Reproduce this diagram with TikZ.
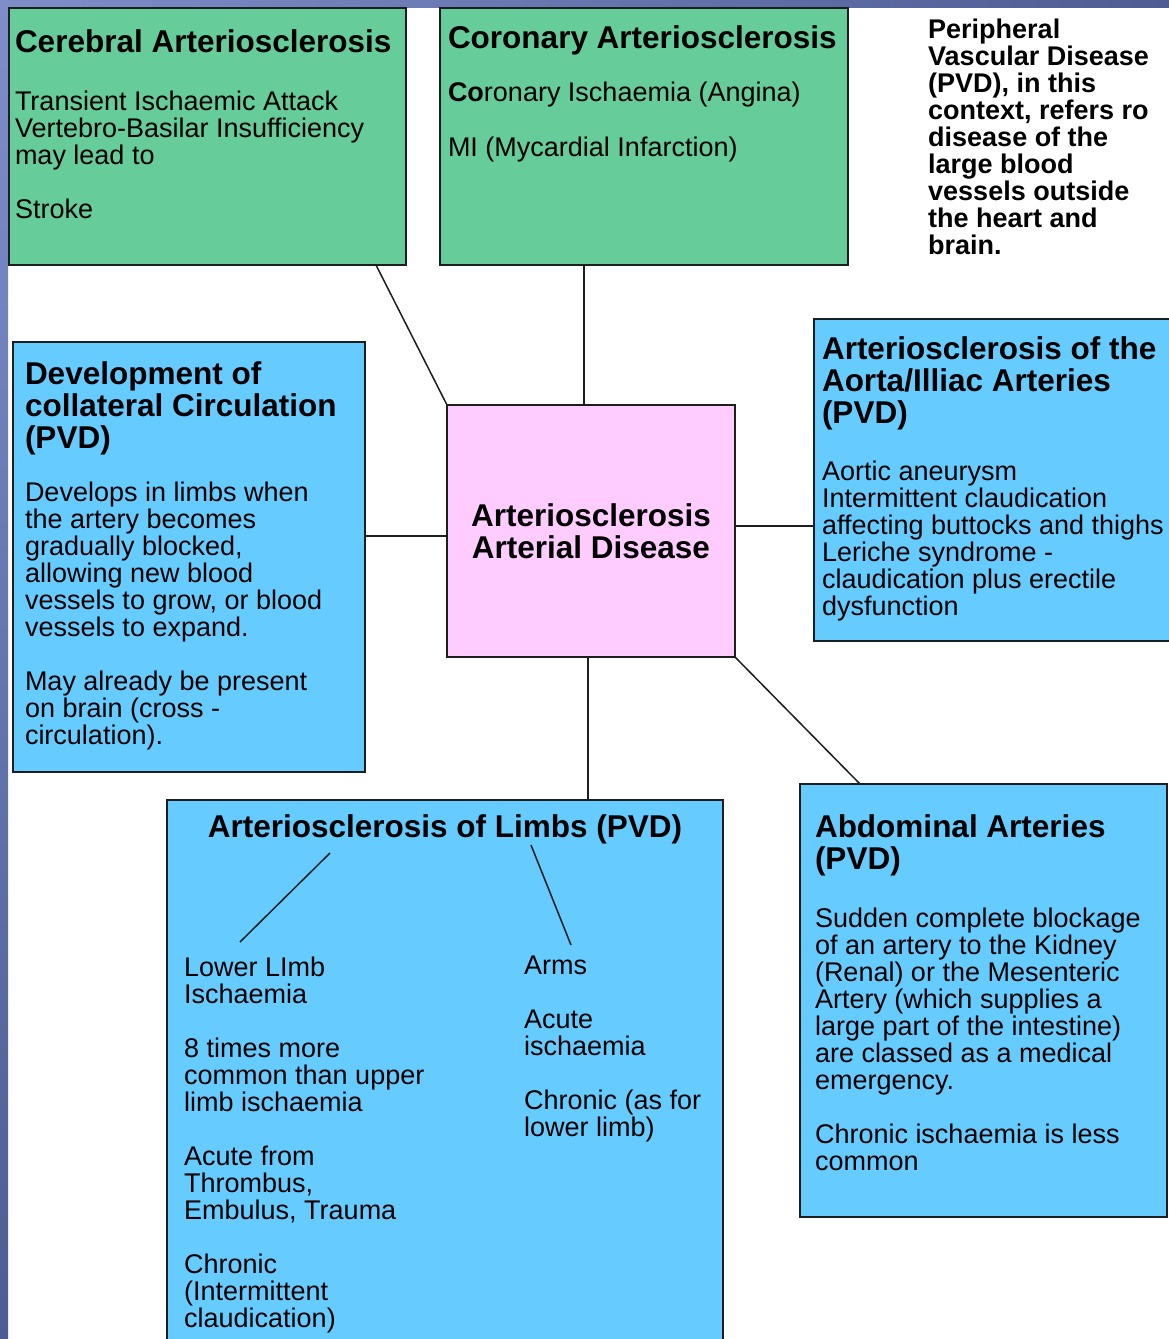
\documentclass[tikz,border=0pt]{standalone}
\usepackage{fontspec}
\setmainfont{Liberation Sans}
\usetikzlibrary{calc}
\definecolor{edge}{HTML}{1E1E1E}
\definecolor{arterygreen}{HTML}{66CC99}
\definecolor{pvdblue}{HTML}{66CCFF}
\definecolor{hubpink}{HTML}{FFCCFF}
\definecolor{stripa}{HTML}{7D8ECB}
\definecolor{stripm}{HTML}{8A9AD6}
\definecolor{stripb}{HTML}{4D5C92}
\newcommand{\ttlfont}{\fontsize{31.5}{32}\selectfont\bfseries}
\newcommand{\bodyfont}{\fontsize{27}{27}\selectfont}
\newcommand{\boxbody}[4]{\parbox[t][#1][t]{#2}{\raggedright\bodyfont\vspace*{#3}#4}}
\tikzset{
  greenbox/.style={draw=edge, line width=2pt, fill=arterygreen, anchor=north west,
                   inner ysep=0pt, outer sep=0pt},
  bluebox/.style={draw=edge, line width=2pt, fill=pvdblue, anchor=north west,
                  inner ysep=0pt, outer sep=0pt},
  hubbox/.style={draw=edge, line width=2pt, fill=hubpink, anchor=north west, outer sep=0pt,
                 minimum width=288pt, minimum height=252pt, align=center, font=\ttlfont},
  plaintext/.style={anchor=north west, inner sep=0pt, align=left, font=\bodyfont},
  link/.style={line width=1.5pt, color=edge}}

\begin{document}
\begin{tikzpicture}[x=1pt, y=-1pt]
  \useasboundingbox (0,0) rectangle (1169,1339);
  \clip (0,0) rectangle (1169,1339);
  \fill[white] (0,0) rectangle (1169,1339);
  \shade[top color=stripa, middle color=stripm, bottom color=stripb] (0,0) rectangle (8,1339);
  \shade[left color=stripa, right color=stripb] (0,0) rectangle (1169,7);

  % top row
  \node[greenbox, inner xsep=6pt] (cereb) at (9,8)
    {\boxbody{257pt}{385pt}{22pt}{{\ttlfont Cerebral Arteriosclerosis\par}\vspace{31pt}
     Transient Ischaemic Attack\\ Vertebro-Basilar Insufficiency\\ may lead to\\[27pt]
     Stroke}};
  \node[greenbox, inner xsep=8pt] (coron) at (440,8)
    {\boxbody{257pt}{392pt}{18pt}{{\ttlfont Coronary Arteriosclerosis\par}\vspace{26pt}
     \textbf{Co}ronary Ischaemia (Angina)\\[28pt]
     MI (Mycardial Infarction)}};
  \node[plaintext, font=\bodyfont\bfseries] (pvdnote) at (928,19)
    {Peripheral\\ Vascular Disease\\ (PVD), in this\\ context, refers ro\\ disease of the\\
     large blood\\ vessels outside\\ the heart and\\ brain.};

  % middle row
  \node[hubbox] (hub) at (447,405) {Arteriosclerosis\\ Arterial Disease};
  \node[bluebox, inner xsep=12pt] (devel) at (13,342)
    {\boxbody{430pt}{328pt}{20pt}{{\ttlfont Development of\\ collateral Circulation\\ (PVD)\par}\vspace{26pt}
     Develops in limbs when\\ the artery becomes\\ gradually blocked,\\ allowing new blood\\
     vessels to grow, or blood\\ vessels to expand.\\[27pt]
     May already be present\\ on brain (cross -\\ circulation).}};
  \node[bluebox, inner xsep=8pt] (aorta) at (814,319)
    {\boxbody{322pt}{344pt}{18pt}{{\ttlfont Arteriosclerosis of the\\ Aorta/Illiac Arteries\\ (PVD)\par}\vspace{30pt}
     Aortic aneurysm\\ Intermittent claudication\\ affecting buttocks and thighs\\
     Leriche syndrome -\\ claudication plus erectile\\ dysfunction}};

  % bottom row
  \node[bluebox, inner xsep=0pt] (limbs) at (167,800)
    {\boxbody{560pt}{556pt}{15pt}{{\centering\ttlfont Arteriosclerosis of Limbs (PVD)\par}}};
  \node[plaintext] (lower) at (184,957)
    {Lower LImb\\ Ischaemia\\[27pt] 8 times more\\ common than upper\\ limb ischaemia\\[27pt]
     Acute from\\ Thrombus,\\ Embulus, Trauma\\[27pt] Chronic\\ (Intermittent\\ claudication)};
  \node[plaintext] (arms) at (524,955.5)
    {Arms\\[27pt] Acute\\ ischaemia\\[27pt] Chronic (as for\\ lower limb)};
  \node[bluebox, inner xsep=15pt] (abdom) at (800,784)
    {\boxbody{433pt}{337pt}{31pt}{{\ttlfont Abdominal Arteries\\ (PVD)\par}\vspace{31pt}
     Sudden complete blockage\\ of an artery to the Kidney\\ (Renal) or the Mesenteric\\
     Artery (which supplies a\\ large part of the intestine)\\ are classed as a medical\\
     emergency.\\[27pt] Chronic ischaemia is less\\ common}};

  % connectors
  \draw[link] ($(cereb.south west)+(367,0)$) -- (hub.north west);
  \draw[link] ($(coron.south west)+(144,0)$) -- ($(hub.north west)+(137,0)$);
  \coordinate (dl) at ($(hub.west)+(0,5)$);
  \draw[link] (dl) -- (dl -| devel.east);
  \coordinate (ar) at ($(hub.east)+(0,-5)$);
  \draw[link] (ar) -- (ar -| aorta.west);
  \coordinate (hb) at ($(hub.south)+(-3,0)$);
  \draw[link] (hb) -- (hb |- limbs.north);
  \draw[link] (hub.south east) -- ($(abdom.north west)+(60,0)$);
  \draw[link] ($(limbs.north west)+(163,53)$) -- ($(lower.north west)+(56,-15)$);
  \draw[link] ($(limbs.north west)+(364,45)$) -- ($(arms.north west)+(47,-10.5)$);
\end{tikzpicture}
\end{document}
